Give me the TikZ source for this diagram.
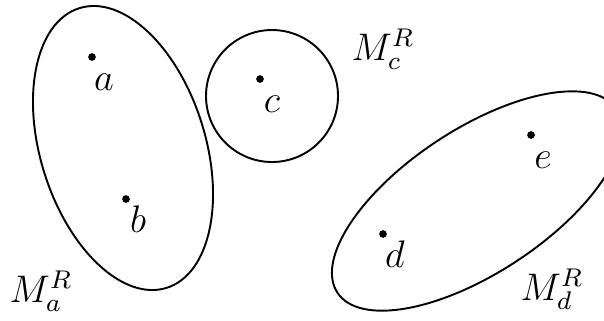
\documentclass[tikz,border=0pt]{standalone}
\usepackage{tikz}
\tikzset{
  region/.style={draw=black, semithick},
  pt/.style={circle, fill=black, inner sep=0pt, minimum size=2.4pt},
  ptlabel/.style={anchor=base, font=\large},
  setname/.style={anchor=base west, inner sep=0pt, font=\large}
}

\begin{document}
\begin{tikzpicture}[x=0.3125pt, y=0.3125pt]
\clip (0,0) rectangle (604,320);
\draw[region] (123,172) ellipse [x radius=146.5, y radius=82.5, rotate=107.3];
\draw[region] (272,224) circle [radius=66];
\draw[region] (477,119) ellipse [x radius=167, y radius=72, rotate=33.3];
\node[pt] (a) at (92,263) {};
\node[pt] (b) at (126,121) {};
\node[pt] (c) at (260,241) {};
\node[pt] (d) at (383,86) {};
\node[pt] (e) at (531,185) {};
\node[ptlabel] (la) at ([shift={(12,-33)}]a) {$a$};
\node[ptlabel] (lb) at ([shift={(12,-33)}]b) {$b$};
\node[ptlabel] (lc) at ([shift={(12,-33)}]c) {$c$};
\node[ptlabel] (ld) at ([shift={(12,-33)}]d) {$d$};
\node[ptlabel] (le) at ([shift={(12,-33)}]e) {$e$};
\node[setname] (Ma) at (9,18) {$M_a^R$};
\node[setname] (Mc) at (351,260) {$M_c^R$};
\node[setname] (Md) at (520,20) {$M_d^R$};
\end{tikzpicture}
\end{document}
